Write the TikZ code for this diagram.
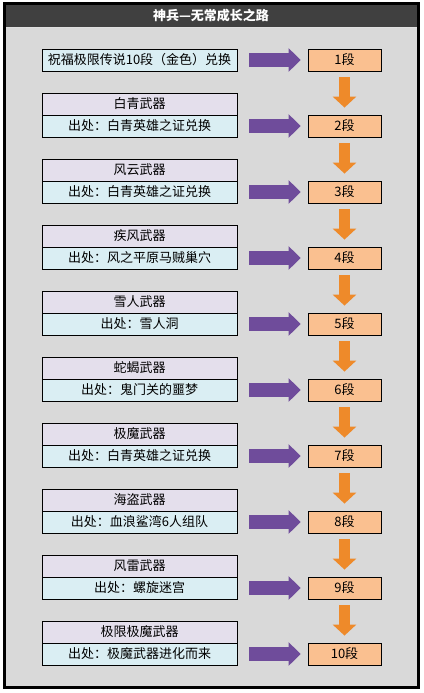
\documentclass[tikz,border=0pt]{standalone}
\usepackage{fontspec}
\setmainfont{Noto Sans CJK SC}
\usepackage{tikz}
\usetikzlibrary{arrows.meta, positioning}
\definecolor{bodygray}{HTML}{D9D9D9}
\definecolor{titlegray}{HTML}{404040}
\definecolor{lavbox}{HTML}{E4DFEC}
\definecolor{cyanbox}{HTML}{DAEEF3}
\definecolor{levelbox}{HTML}{FAC090}
\definecolor{getpurple}{HTML}{6F4C9B}
\definecolor{nextorange}{HTML}{EE8A2A}

\begin{document}
\begin{tikzpicture}[x=1pt, y=-1pt,
  weapon/.style={draw, line width=0.8pt, fill=lavbox, minimum width=195pt, minimum height=22pt, inner sep=0pt, font=\fontsize{13}{15}\selectfont},
  source/.style={weapon, fill=cyanbox},
  level/.style={weapon, fill=levelbox, minimum width=73pt},
  getarrow/.style={line width=14pt, getpurple, -{Triangle[width=23pt, length=12pt]}, shorten <=12pt, shorten >=7pt},
  nextarrow/.style={line width=11pt, nextorange, -{Triangle[width=23pt, length=11pt]}, shorten <=6pt, shorten >=7pt}]
  % 神兵成长路线图
  \useasboundingbox (0,0) rectangle (423,693);
  \fill[bodygray] (4,4) rectangle (418,687.5);
  \fill[titlegray] (4,4) rectangle (418,27);
  \draw[white!75!gray, line width=1pt] (4,27.5) -- (418,27.5);
  \draw[line width=3pt] (4,4) rectangle (418,687.5);
  \node[text=white, font=\fontsize{13}{15}\selectfont\bfseries] (title) at (211,15.5) {神兵—无常成长之路};

  \node[source] (S1) at (139.5,60) {祝福极限传说10段（金色）兑换};
  \node[weapon] (W2) at (139.5,104) {白青武器};
  \node[source] (S2) at (139.5,126) {出处：白青英雄之证兑换};
  \node[weapon] (W3) at (139.5,170) {风云武器};
  \node[source] (S3) at (139.5,192) {出处：白青英雄之证兑换};
  \node[weapon] (W4) at (139.5,236) {疾风武器};
  \node[source] (S4) at (139.5,258) {出处：风之平原马贼巢穴};
  \node[weapon] (W5) at (139.5,302) {雪人武器};
  \node[source] (S5) at (139.5,324) {出处：雪人洞};
  \node[weapon] (W6) at (139.5,368) {蛇蝎武器};
  \node[source] (S6) at (139.5,390) {出处：鬼门关的噩梦};
  \node[weapon] (W7) at (139.5,434) {极魔武器};
  \node[source] (S7) at (139.5,456) {出处：白青英雄之证兑换};
  \node[weapon] (W8) at (139.5,500) {海盗武器};
  \node[source] (S8) at (139.5,522) {出处：血浪鲨湾6人组队};
  \node[weapon] (W9) at (139.5,566) {风雷武器};
  \node[source] (S9) at (139.5,588) {出处：螺旋迷宫};
  \node[weapon] (W10) at (139.5,632) {极限极魔武器};
  \node[source] (S10) at (139.5,654) {出处：极魔武器进化而来};

  \node[level] (L1) at (344.5,60) {1段};
  \node[level] (L2) at (344.5,126) {2段};
  \node[level] (L3) at (344.5,192) {3段};
  \node[level] (L4) at (344.5,258) {4段};
  \node[level] (L5) at (344.5,324) {5段};
  \node[level] (L6) at (344.5,390) {6段};
  \node[level] (L7) at (344.5,456) {7段};
  \node[level] (L8) at (344.5,522) {8段};
  \node[level] (L9) at (344.5,588) {9段};
  \node[level] (L10) at (344.5,654) {10段};

  \draw[getarrow] (S1) -- (L1);
  \draw[getarrow] (S2) -- (L2);
  \draw[getarrow] (S3) -- (L3);
  \draw[getarrow] (S4) -- (L4);
  \draw[getarrow] (S5) -- (L5);
  \draw[getarrow] (S6) -- (L6);
  \draw[getarrow] (S7) -- (L7);
  \draw[getarrow] (S8) -- (L8);
  \draw[getarrow] (S9) -- (L9);
  \draw[getarrow] (S10) -- (L10);

  \draw[nextarrow] (L1) -- (L2);
  \draw[nextarrow] (L2) -- (L3);
  \draw[nextarrow] (L3) -- (L4);
  \draw[nextarrow] (L4) -- (L5);
  \draw[nextarrow] (L5) -- (L6);
  \draw[nextarrow] (L6) -- (L7);
  \draw[nextarrow] (L7) -- (L8);
  \draw[nextarrow] (L8) -- (L9);
  \draw[nextarrow] (L9) -- (L10);
\end{tikzpicture}
\end{document}
